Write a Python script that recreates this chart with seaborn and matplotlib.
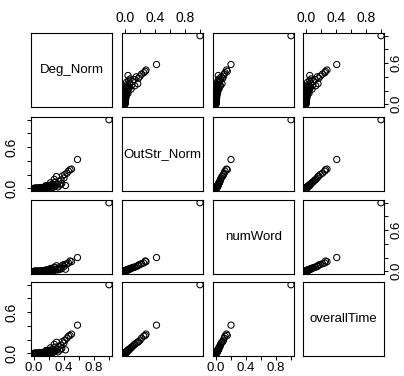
import matplotlib
matplotlib.use("Agg")
import matplotlib.pyplot as plt
import seaborn as sns
import pandas as pd

sns.set_style("white")
plt.rcParams['font.family'] = ['Liberation Sans', 'DejaVu Sans']
plt.rcParams['text.color'] = 'black'
plt.rcParams['xtick.color'] = 'black'
plt.rcParams['ytick.color'] = 'black'

var_names = ["Deg_Norm", "OutStr_Norm", "numWord", "overallTime"]

deg_norm = [1.00, 0.58, 0.50, 0.48, 0.46, 0.44, 0.42, 0.41, 0.40, 0.38, 0.37, 0.36,
            0.35, 0.33, 0.32, 0.31, 0.30, 0.29, 0.28, 0.27, 0.27, 0.26, 0.25, 0.25,
            0.24, 0.23, 0.22, 0.22, 0.21, 0.20, 0.20, 0.19, 0.18, 0.18, 0.17, 0.16,
            0.16, 0.15, 0.14, 0.14, 0.13, 0.12, 0.12, 0.11, 0.10, 0.10, 0.09, 0.08,
            0.08, 0.07, 0.06, 0.06, 0.05, 0.04, 0.04, 0.03, 0.02, 0.02, 0.01, 0.00]
outstr_norm = [1.00, 0.42, 0.28, 0.27, 0.25, 0.22, 0.04, 0.20, 0.15, 0.18, 0.07, 0.12,
               0.05, 0.10, 0.02, 0.06, 0.17, 0.03, 0.09, 0.04, 0.13, 0.02, 0.06, 0.01,
               0.03, 0.05, 0.02, 0.08, 0.01, 0.04, 0.02, 0.01, 0.03, 0.01, 0.02, 0.01,
               0.04, 0.01, 0.02, 0.00, 0.01, 0.01, 0.00, 0.01, 0.00, 0.01, 0.00, 0.00,
               0.01, 0.00, 0.00, 0.00, 0.00, 0.00, 0.00, 0.00, 0.00, 0.00, 0.00, 0.00]
num_word = [1.00, 0.20, 0.14, 0.15, 0.12, 0.11, 0.03, 0.10, 0.07, 0.09, 0.04, 0.06,
            0.03, 0.05, 0.02, 0.03, 0.08, 0.02, 0.05, 0.02, 0.06, 0.01, 0.03, 0.01,
            0.02, 0.03, 0.01, 0.04, 0.01, 0.02, 0.01, 0.01, 0.02, 0.01, 0.01, 0.00,
            0.02, 0.01, 0.01, 0.00, 0.01, 0.00, 0.00, 0.00, 0.00, 0.01, 0.00, 0.00,
            0.00, 0.00, 0.00, 0.00, 0.00, 0.00, 0.00, 0.00, 0.00, 0.00, 0.00, 0.00]
overall_time = [1.00, 0.41, 0.28, 0.26, 0.25, 0.22, 0.05, 0.19, 0.15, 0.17, 0.07, 0.12,
                0.05, 0.10, 0.02, 0.06, 0.16, 0.03, 0.09, 0.04, 0.13, 0.02, 0.06, 0.01,
                0.03, 0.05, 0.02, 0.08, 0.01, 0.04, 0.02, 0.01, 0.03, 0.01, 0.02, 0.01,
                0.04, 0.01, 0.02, 0.00, 0.01, 0.01, 0.00, 0.01, 0.00, 0.01, 0.00, 0.00,
                0.01, 0.00, 0.00, 0.00, 0.00, 0.00, 0.00, 0.00, 0.00, 0.00, 0.00, 0.00]

tick_vals = [0.0, 0.2, 0.4, 0.6, 0.8, 1.0]
x_tick_labels = ["0.0", "", "0.4", "", "0.8", ""]
y_tick_labels = ["0.0", "", "", "0.6", "", ""]

df = pd.DataFrame({var_names[0]: deg_norm, var_names[1]: outstr_norm,
                   var_names[2]: num_word, var_names[3]: overall_time})

W, H = 404, 376
fig = plt.figure(figsize=(W / 100, H / 100), dpi=100)
col_left = [31, 122, 213, 303]
row_top = [33, 117, 200, 282]
pw, ph = 81, 74

n = len(var_names)
for i in range(n):
    for j in range(n):
        ax = fig.add_axes([col_left[j] / W, (H - row_top[i] - ph) / H, pw / W, ph / H])
        ax.set_xlim(-0.04, 1.04)
        ax.set_ylim(-0.04, 1.04)
        for s in ax.spines.values():
            s.set_visible(True)
            s.set_color("black")
            s.set_linewidth(0.8)
        if i == j:
            ax.text(0.5, 0.5, var_names[i], transform=ax.transAxes,
                    ha="center", va="center", fontsize=9.5, color="black")
        else:
            sns.scatterplot(data=df, x=var_names[j], y=var_names[i], ax=ax,
                            marker="o", facecolors="none", edgecolor="black",
                            linewidth=0.75, s=20, legend=False)
        ax.set_xlabel("")
        ax.set_ylabel("")
        ax.set_xticks([])
        ax.set_yticks([])
        ax.tick_params(axis="both", which="both", direction="out", length=3,
                       width=0.7, color="black", labelsize=10, labelcolor="black")
        # x axes
        if (i == 0 and j % 2 == 1) or (i == n - 1 and j % 2 == 0):
            ax.set_xticks(tick_vals)
            ax.set_xticklabels(x_tick_labels)
            if i == 0:
                ax.xaxis.tick_top()
                ax.tick_params(axis="x", pad=3)
            else:
                ax.xaxis.tick_bottom()
                ax.tick_params(axis="x", pad=1.5, labelsize=9.5)
        # y axes
        if (j == 0 and i % 2 == 1) or (j == n - 1 and i % 2 == 0):
            ax.set_yticks(tick_vals)
            ax.set_yticklabels(y_tick_labels, rotation=90, va="center")
            if j == n - 1:
                ax.yaxis.tick_right()
                ax.tick_params(axis="y", pad=1.5, labelsize=9.5)
            else:
                ax.yaxis.tick_left()
                ax.tick_params(axis="y", pad=6)

fig.savefig("out.png", dpi=100)
